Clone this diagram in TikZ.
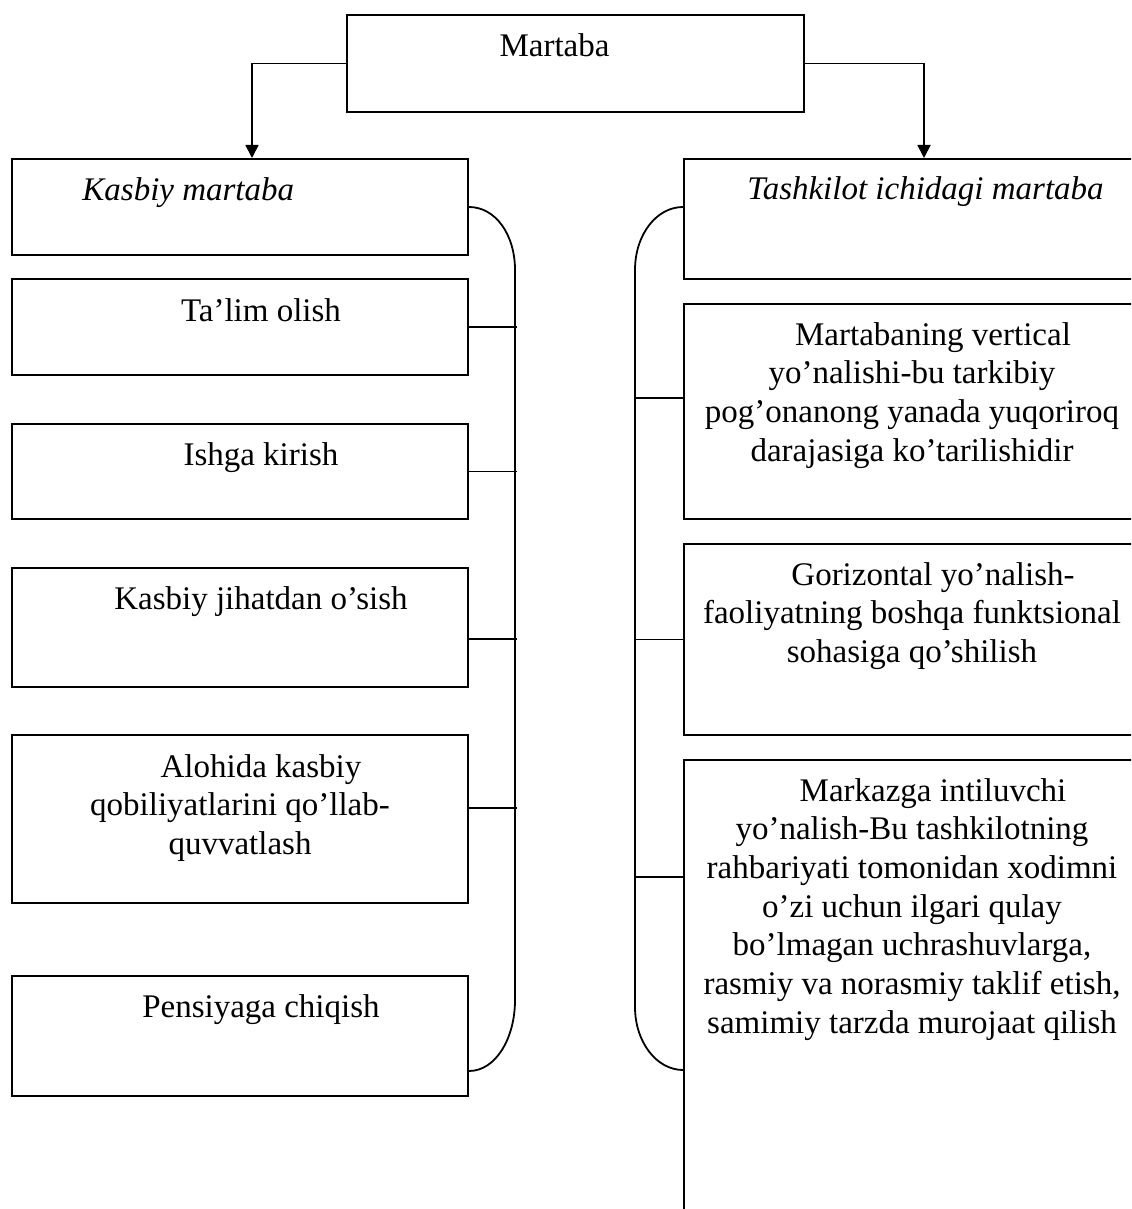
\documentclass[tikz,border=0pt]{standalone}
\usepackage{fontspec}
\setmainfont{Liberation Serif}
\usetikzlibrary{arrows.meta, positioning, calc}

\begin{document}
\begin{tikzpicture}[
  x=0.5pt, y=-0.5pt,
  box/.style={rectangle, draw, line width=1pt, inner sep=0pt, anchor=north west,
              minimum width=228pt},
  txt/.style={anchor=base, inner sep=0pt, align=center,
              font=\fontsize{16.5}{19.35}\selectfont},
  head/.style={txt, anchor=base west, font=\fontsize{16.5}{19.35}\selectfont\itshape},
  arrow/.style={-{Triangle[length=6.5pt, width=6.5pt]}, line width=0.9pt},
  line/.style={line width=0.9pt}
]
\useasboundingbox (0,0) rectangle (1131,1209);
\clip (0,0) rectangle (1131,1209);

% Top
\node[box, minimum width=228.5pt, minimum height=48.5pt] (mart) at (346,14) {};
\node[txt] (mart-t) at ([xshift=-10.5pt, yshift=-21.5pt]mart.north) {Martaba};

% Left column
\node[box, minimum height=48pt]   (kasb)  at (11,158) {};
\node[box, minimum height=48pt]   (talim) at (11,278) {};
\node[box, minimum height=47.5pt] (ishga) at (11,423) {};
\node[box, minimum height=59.5pt] (osish) at (11,567) {};
\node[box, minimum height=84pt]   (qobil) at (11,734) {};
\node[box, minimum height=60pt]   (pens)  at (11,975) {};

% (base of a multi-line text is its last line)
\node[head] (kasb-t) at ([xshift=35.5pt, yshift=-21.5pt]kasb.north west) {Kasbiy martaba};
\node[txt] (talim-t) at ([yshift=-21.5pt]talim.north) {\hspace*{21pt}Ta’lim olish};
\node[txt] (ishga-t) at ([yshift=-21pt]ishga.north) {\hspace*{21pt}Ishga kirish};
\node[txt] (osish-t) at ([yshift=-21pt]osish.north) {\hspace*{21pt}Kasbiy jihatdan o’sish};
\node[txt] (qobil-t) at ([yshift=-60.2pt]qobil.north)
  {\hspace*{21pt}Alohida kasbiy\\qobiliyatlarini qo’llab-\\quvvatlash};
\node[txt] (pens-t) at ([yshift=-21pt]pens.north) {\hspace*{21pt}Pensiyaga chiqish};

% Right column
\node[box, minimum height=60pt]    (tash)   at (683,158) {};
\node[box, minimum height=107.5pt] (vert)   at (683,303) {};
\node[box, minimum height=95.5pt]  (goriz)  at (683,543) {};
\node[box, minimum height=245pt]   (markaz) at (683,759) {};

\node[head] (tash-t) at ([xshift=32pt, yshift=-21pt]tash.north west) {Tashkilot ichidagi martaba};
\node[txt] (vert-t) at ([yshift=-79.05pt]vert.north)
  {\hspace*{21pt}Martabaning vertical\\yo’nalishi-bu tarkibiy\\pog’onanong yanada yuqoriroq\\darajasiga ko’tarilishidir};
\node[txt] (goriz-t) at ([yshift=-59.7pt]goriz.north)
  {\hspace*{21pt}Gorizontal yo’nalish-\\faoliyatning boshqa funktsional\\sohasiga qo’shilish};
\node[txt] (markaz-t) at ([yshift=-137.1pt]markaz.north)
  {\hspace*{21pt}Markazga intiluvchi\\yo’nalish-Bu tashkilotning\\rahbariyati tomonidan xodimni\\o’zi uchun ilgari qulay\\bo’lmagan uchrashuvlarga,\\rasmiy va norasmiy taklif etish,\\samimiy tarzda murojaat qilish};

% Arrows
\draw[arrow] (mart.west) -| ([xshift=6pt]kasb.north);
\draw[arrow] (mart.east) -| ([xshift=6pt]tash.north);

% Left bracket
\draw[line] (kasb.east) .. controls +(13.25pt,0) and +(0,17.7pt) .. (515,270)
  -- (515,1000) .. controls +(0,-19.3pt) and +(13.25pt,0) .. ([yshift=-17.5pt]pens.east);
\draw[line] (talim.east) -- +(24pt,0);
\draw[line] (ishga.east) -- +(24pt,0);
\draw[line] ([yshift=-5.75pt]osish.east) -- +(24pt,0);
\draw[line] ([yshift=5.5pt]qobil.east) -- +(24pt,0);

% Right bracket
\draw[line] ([yshift=6pt]tash.west) .. controls +(-13.25pt,0) and +(0,17.7pt) .. (635,270)
  -- (635,1007) .. controls +(0,-17.4pt) and +(-13.25pt,0) .. ([yshift=-155.5pt]markaz.north west);
\draw[line] ([yshift=-47.5pt]vert.north west) -- +(-24pt,0);
\draw[line] (goriz.west) -- +(-24pt,0);
\draw[line] ([yshift=-59pt]markaz.north west) -- +(-24pt,0);

\end{tikzpicture}
\end{document}
